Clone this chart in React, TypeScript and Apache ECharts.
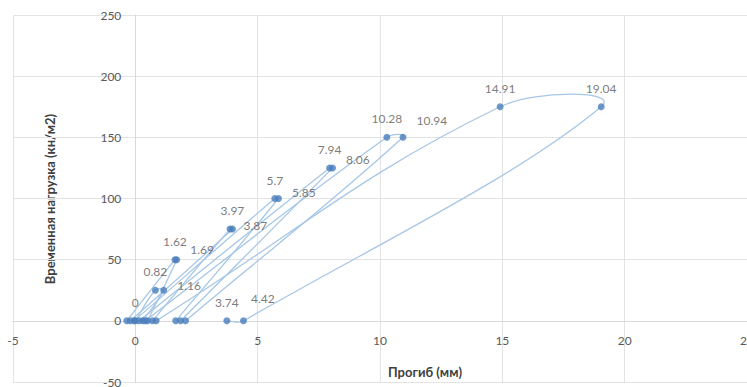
import React, { useEffect, useRef } from 'react';
import * as echarts from 'echarts';

// Load levels of the seven loading cycles (кн/м2)
const loads = [25, 50, 75, 100, 125, 150, 175];
// Deflection at the start of each cycle (mm)
const startDeflection = [0, -0.35, -0.2, -0.05, 0.15, 0.4, 0.85];
// First deflection reading at the load level (mm)
const firstReading = [0.82, 1.62, 3.97, 5.7, 7.94, 10.28, 14.91];
// Second deflection reading at the same load level (mm)
const secondReading = [1.16, 1.69, 3.87, 5.85, 8.06, 10.94, 19.04];
// Residual deflection after unloading (mm)
const residualDeflection = [0.3, 0.5, 0.7, 1.65, 1.85, 2.05, 4.42];
// Deflection after recovery, following the last cycle (mm)
const recoveredDeflection = [3.74];

const xAxisRange = { min: -5, max: 25, interval: 5 };
const yAxisRange = { min: -50, max: 250, interval: 50 };

const xTitle = 'Прогиб (мм)';
const yTitle = 'Временная нагрузка (кн/м2)';

// vertical lift (px) of the right-hand labels of the second readings
const secondLabelLift = [5, 10, 4, 6, 8, 17, 0];
// curve smoothing strength
const SMOOTH = 0.4;

const fmt = (v: number) => String(Math.round(v * 100) / 100);

const W = 747;
const H = 387;
const GRID = { left: 13, right: 0, top: 15, bottom: 5 };
const last = loads.length - 1;

const cyclePoints = (i: number): number[][] => {
  const pts = [
    [startDeflection[i], 0],
    [firstReading[i], loads[i]],
    [secondReading[i], loads[i]],
    [residualDeflection[i], 0],
  ];
  if (i === last) recoveredDeflection.forEach((d) => pts.push([d, 0]));
  return pts;
};

export default function App() {
  const ref = useRef<HTMLDivElement>(null);
  useEffect(() => {
    if (!ref.current) return;
    const chart = echarts.init(ref.current, null, { renderer: 'svg' });
    const labelColor = '#595959';
    const font = 'Lato, "Liberation Sans", sans-serif';
    const topLabel = { show: true, position: 'top', distance: 9 };
    const hidden = { show: false };

    // place each axis on the other's zero
    const plotW = W - GRID.left - GRID.right;
    const plotH = H - GRID.top - GRID.bottom;
    const xAxisOffset = -plotH * (0 - yAxisRange.min) / (yAxisRange.max - yAxisRange.min);
    const yAxisOffset = -plotW * (0 - xAxisRange.min) / (xAxisRange.max - xAxisRange.min);

    // points with markers and labels
    const pointData: any[] = [];
    loads.forEach((_, i) => {
      const pts = cyclePoints(i);
      pts.forEach((pt, k) => {
        let label: any = hidden;
        if (k === 0 && i === 0) label = topLabel;
        else if (k === 1) label = topLabel;
        else if (k === 2) {
          label = i === last
            ? topLabel
            : { show: true, position: 'right', distance: 10, offset: [0, -secondLabelLift[i]] };
        } else if (k === 3 && i === last) {
          label = { show: true, position: 'right', distance: 4, offset: [0, -22] };
        } else if (k === 4) label = topLabel;
        pointData.push({ value: pt, label });
      });
    });

    // smoothed curves, control points scaled by neighbouring segment lengths
    const curveSeries = {
      type: 'custom',
      coordinateSystem: 'cartesian2d',
      data: loads.map((_, i) => [i, 0]),
      encode: { x: -1, y: -1 },
      silent: true,
      z: 2,
      renderItem: (params: any, api: any) => {
        const i = params.dataIndex;
        const p = cyclePoints(i).map((d) => api.coord(d));
        const dist = (a: number[], b: number[]) => Math.hypot(a[0] - b[0], a[1] - b[1]);
        const children: any[] = [];
        for (let k = 0; k < p.length - 1; k++) {
          const p0 = p[Math.max(0, k - 1)];
          const p1 = p[k];
          const p2 = p[k + 1];
          const p3 = p[Math.min(p.length - 1, k + 2)];
          const d01 = dist(p0, p1);
          const d12 = dist(p1, p2);
          const d23 = dist(p2, p3);
          const r1 = d01 + d12 > 0 ? d12 / (d01 + d12) : 0;
          const r2 = d12 + d23 > 0 ? d12 / (d12 + d23) : 0;
          children.push({
            type: 'bezierCurve',
            shape: {
              x1: p1[0],
              y1: p1[1],
              x2: p2[0],
              y2: p2[1],
              cpx1: p1[0] + (p2[0] - p0[0]) * SMOOTH * r1,
              cpy1: p1[1] + (p2[1] - p0[1]) * SMOOTH * r1,
              cpx2: p2[0] - (p3[0] - p1[0]) * SMOOTH * r2,
              cpy2: p2[1] - (p3[1] - p1[1]) * SMOOTH * r2,
            },
            style: { stroke: '#A7C7E7', lineWidth: 1.3, fill: 'none' },
          });
        }
        return { type: 'group', children };
      },
    };

    const pointSeries = {
      type: 'scatter',
      data: pointData,
      symbol: 'circle',
      symbolSize: 7,
      z: 3,
      itemStyle: { color: '#4A7EBB' },
      label: {
        show: true,
        color: labelColor,
        fontSize: 12,
        fontFamily: font,
        formatter: (q: any) => fmt(q.value[0]),
      },
    };

    chart.setOption({
      animation: false,
      backgroundColor: '#ffffff',
      grid: { ...GRID, containLabel: false, outerBoundsMode: 'none' },
      xAxis: {
        type: 'value',
        ...xAxisRange,
        position: 'bottom',
        offset: xAxisOffset,
        axisLine: { show: true, onZero: false, lineStyle: { color: '#D9D9D9' } },
        axisTick: { show: false },
        splitLine: { show: true, lineStyle: { color: '#E3E3E3' } },
        axisLabel: { color: labelColor, fontSize: 12, fontFamily: font, margin: 14 },
      },
      yAxis: {
        type: 'value',
        ...yAxisRange,
        position: 'left',
        offset: yAxisOffset,
        axisLine: { show: true, onZero: false, lineStyle: { color: '#D9D9D9' } },
        axisTick: { show: false },
        splitLine: { show: true, lineStyle: { color: '#E3E3E3' } },
        axisLabel: { color: labelColor, fontSize: 12, fontFamily: font, margin: 14 },
      },
      graphic: [
        {
          type: 'text',
          x: 425,
          y: 372,
          style: {
            text: xTitle,
            align: 'center',
            verticalAlign: 'middle',
            fill: '#404040',
            font: 'bold 13px ' + font,
          },
        },
        {
          type: 'text',
          x: 50,
          y: 199,
          rotation: Math.PI / 2,
          style: {
            text: yTitle,
            align: 'center',
            verticalAlign: 'middle',
            fill: '#404040',
            font: 'bold 13px ' + font,
          },
        },
      ],
      series: [curveSeries, pointSeries],
    });
    return () => chart.dispose();
  }, []);
  return (
    <div
      ref={ref}
      style={{ position: 'fixed', left: 0, top: 0, width: W, height: H, background: '#fff' }}
    />
  );
}
